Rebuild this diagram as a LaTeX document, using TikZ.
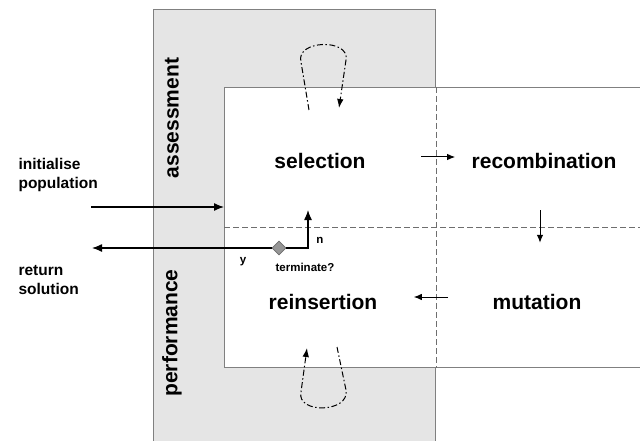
\documentclass[tikz,border=0pt]{standalone}
\usepackage{fontspec}
\setmainfont{Liberation Sans}
\usetikzlibrary{arrows.meta,shapes.geometric}
\definecolor{panelgrey}{RGB}{229,229,229}
\definecolor{edgegrey}{RGB}{128,128,128}
\definecolor{dashgrey}{RGB}{110,110,110}
\definecolor{tipgrey}{RGB}{150,150,150}

\begin{document}
\begin{tikzpicture}[x=1pt,y=-1pt,
    stage/.style={font=\fontsize{21}{25}\selectfont\bfseries},
    side/.style={font=\fontsize{15.5}{19.5}\selectfont\bfseries, align=left, anchor=west},
    small/.style={font=\fontsize{11.5}{14}\selectfont\bfseries},
    frame/.style={draw=edgegrey, line width=1.2pt, inner sep=0pt, anchor=north west},
    flow/.style={line width=1.3pt, -{Latex[length=10pt,width=8pt]}},
    hop/.style={line width=1pt, -{Latex[length=8pt,width=6.5pt]}},
    selfloop/.style={line width=1pt, dash pattern=on 6pt off 2.5pt on 1.5pt off 2.5pt,
        -{Latex[length=9pt,width=6.5pt]}},
    divider/.style={dashgrey, line width=0.9pt, dash pattern=on 6pt off 3pt},
    decision/.style={diamond, draw=dashgrey, fill=tipgrey, line width=0.8pt,
        minimum width=14pt, minimum height=14pt, inner sep=0pt}]

    \useasboundingbox (0,0) rectangle (640,441);
    \clip (0,0) rectangle (640,441);

    % grey band and the white cycle box on top of it
    \node[frame, fill=panelgrey, minimum width=282pt, minimum height=460pt] (panel) at (153,9) {};
    \node[frame, fill=white, minimum width=440pt, minimum height=280pt] (cycle) at (224,87) {};
    \draw[divider] (cycle.west |- 0,227) -- (640,227);
    \draw[divider] (panel.east |- cycle.north) -- (panel.east |- cycle.south);

    \node[stage, rotate=90] (assess) at (172,118) {assessment};
    \node[stage, rotate=90] (perf) at (172,333) {performance};

    % the four stages
    \node[stage] (sel) at (320,161) {selection};
    \node[stage] (rec) at (544,161) {recombination};
    \node[stage] (mut) at (537,302) {mutation};
    \node[stage] (ins) at (323,302) {reinsertion};

    \draw[hop, shorten <=52pt, shorten >=13pt] ([yshift=4pt]sel.east) -- ([yshift=4pt]rec.west);
    \draw[hop, shorten <=38pt, shorten >=48pt] ([xshift=-4pt]rec.south) -- ([xshift=-4pt]rec.south |- mut.north);
    \draw[hop, shorten <=41pt, shorten >=33pt] ([yshift=5pt]mut.west) -- ([yshift=5pt]ins.east);

    % self loops
    \draw[selfloop] (309,110) -- (301,62) .. controls (295,40) and (350,38) .. (346,60) -- (339,108);
    \draw[selfloop] (337,347) -- (346,390) .. controls (350,413) and (296,414) .. (301,392) -- (307,348);

    % entry and exit
    \node[side] (init) at (15,175) {initialise\\population};
    \node[side] (ret) at (15,280) {return\\solution};
    \coordinate (initfrom) at (91,207);
    \coordinate (retto) at (92,248);
    \coordinate (upto) at (308,210);
    \draw[flow] (initfrom) -- (cycle.west |- initfrom);

    \node[decision] (term) at (279,248) {};
    \node[small] (termlbl) at (305,267) {terminate?};
    \node[small] (yes) at (243,262) {y};
    \node[small] (no) at (320,240) {n};
    \draw[flow] (term.west) -- (retto);
    \draw[flow] (term.east) -| (upto);
\end{tikzpicture}
\end{document}
